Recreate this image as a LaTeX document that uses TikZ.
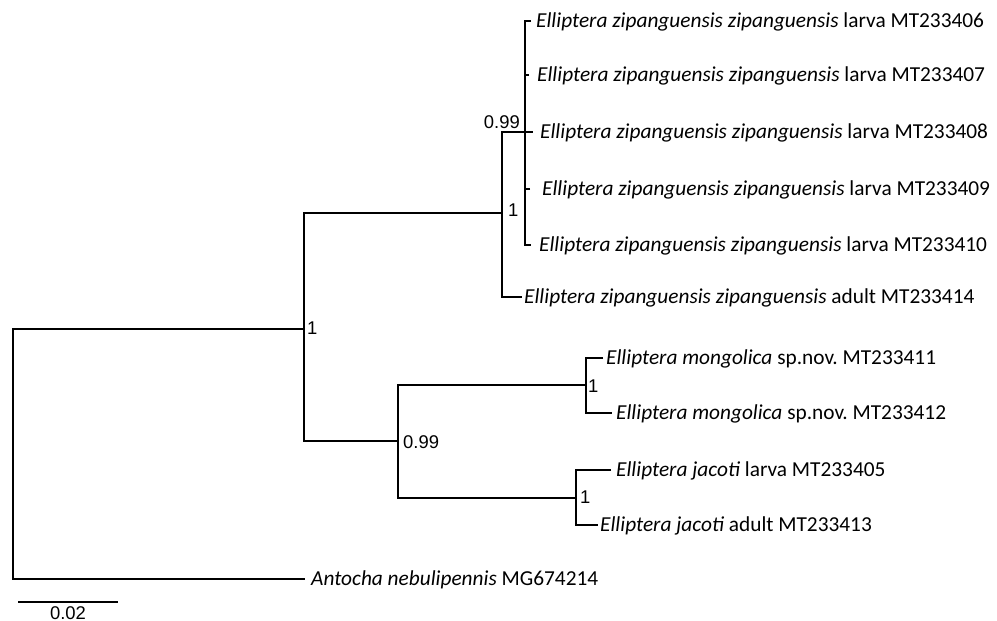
\documentclass[tikz,border=0pt]{standalone}
\usepackage{fontspec}
\setmainfont{Carlito}
\newfontfamily\supfont{Liberation Sans}
\frenchspacing
\begin{document}
\begin{tikzpicture}[x=1bp,y=-1bp,
  edge/.style={line width=1.4bp,black},
  leaf/.style={anchor=base west,inner sep=0pt,font=\fontsize{21.4}{24}\selectfont,yshift=-6.6bp},
  supp/.style={inner sep=0pt,font=\supfont\fontsize{18.5}{20}\selectfont}]
\useasboundingbox (0,0) rectangle (997,621);
% internal nodes
\coordinate (R) at (13,329);
\coordinate (A) at (304,329);
\coordinate (B) at (502,213);
\coordinate (C) at (525,132);
\coordinate (D) at (398,441);
\coordinate (E) at (586,385);
\coordinate (F) at (576,498);
% tips
\coordinate (t1) at (531,21);
\coordinate (t2) at (529,75);
\coordinate (t3) at (533,132);
\coordinate (t4) at (530,189);
\coordinate (t5) at (531,245);
\coordinate (t6) at (522,297);
\coordinate (m1) at (603,358);
\coordinate (m2) at (612,413);
\coordinate (j1) at (611,470);
\coordinate (j2) at (598,525);
\coordinate (an) at (305,579);
% edges
\draw[edge] (A) -- (R) |- (an);
\draw[edge] (B) -| (A) |- (D);
\draw[edge] (C) -| (B) |- (t6);
\draw[edge] (t1) -| (C) |- (t5);
\draw[edge] (C) -- (t3);
\draw[edge] (t2) -- (t2 -| C);
\draw[edge] (t4) -- (t4 -| C);
\draw[edge] (E) -| (D) |- (F);
\draw[edge] (m1) -| (E) |- (m2);
\draw[edge] (j1) -| (F) |- (j2);
% leaf labels
\node[leaf] (l1) at (536,21) {\textit{Elliptera zipanguensis zipanguensis} larva MT233406};
\node[leaf] (l2) at (537,75) {\textit{Elliptera zipanguensis zipanguensis} larva MT233407};
\node[leaf] (l3) at (540,132) {\textit{Elliptera zipanguensis zipanguensis} larva MT233408};
\node[leaf] (l4) at (542,189) {\textit{Elliptera zipanguensis zipanguensis} larva MT233409};
\node[leaf] (l5) at (539,245) {\textit{Elliptera zipanguensis zipanguensis} larva MT233410};
\node[leaf] (l6) at (524,297) {\textit{Elliptera zipanguensis zipanguensis} adult MT233414};
\node[leaf] (l7) at (606,358) {\textit{Elliptera mongolica} sp.nov. MT233411};
\node[leaf] (l8) at (616,413) {\textit{Elliptera mongolica} sp.nov. MT233412};
\node[leaf] (l9) at (616,470) {\textit{Elliptera jacoti} larva MT233405};
\node[leaf] (l10) at (600,525) {\textit{Elliptera jacoti} adult MT233413};
\node[leaf] (l11) at (311,579) {\textit{Antocha nebulipennis} MG674214};
% support values
\node[supp,anchor=base east] (sC) at (520,129) {0.99};
\node[supp,anchor=base west] (sB) at (508,217) {1};
\node[supp,anchor=base west] (sA) at (307,334) {1};
\node[supp,anchor=base west] (sD) at (403,448) {0.99};
\node[supp,anchor=base west] (sE) at (588,392) {1};
\node[supp,anchor=base west] (sF) at (580,503) {1};
% scale bar
\coordinate (s1) at (18,602);
\coordinate (s2) at (118,602);
\draw[edge] (s1) -- (s2);
\node[supp,anchor=base] (sl) at (68,619) {0.02};
\end{tikzpicture}
\end{document}
